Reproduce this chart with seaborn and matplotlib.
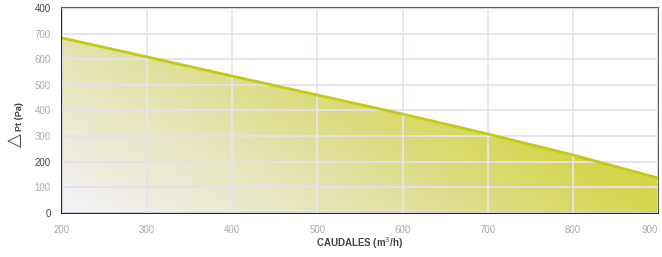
import numpy as np
import pandas as pd
import matplotlib
matplotlib.use("Agg")
import matplotlib.pyplot as plt
from matplotlib.colors import LinearSegmentedColormap
import seaborn as sns

# data
caudal = [200, 300, 400, 500, 600, 700, 800, 900]
presion = [683, 609, 534, 460, 386, 308, 226, 136]
x_ticks = [200, 300, 400, 500, 600, 700, 800, 900]
y_ticks = [0, 100, 200, 300, 400, 500, 600, 700, 800]
y_ticklabels = ['0', '100', '200', '300', '400', '500', '600', '700', '400']
dark_labels = ['0', '200']

sns.set_style("white")
plt.rcParams['font.family'] = ['Liberation Sans', 'DejaVu Sans']

df = pd.DataFrame({'caudal': caudal, 'presion': presion})

fig = plt.figure(figsize=(6.62, 2.57), dpi=100)
ax = fig.add_axes([62 / 662, 1 - 212.8 / 257, 596 / 662, 204.8 / 257])

ax.set_xlim(200, 900)
ax.set_ylim(0, 800)

# diagonal gradient fill clipped under the curve
poly = ax.fill_between(df['caudal'], df['presion'], 0, color='none', lw=0)
u, v = np.meshgrid(np.linspace(0, 1, 400), np.linspace(0, 1, 200))
t = np.clip((596 * u + 380 * v) / 620, 0, 1)
cmap = LinearSegmentedColormap.from_list('grad', ['#f5f3fb', '#e4e3b0', '#d3d54a'])
img = ax.imshow(t, cmap=cmap, origin='lower', extent=[200, 900, 0, 800],
                aspect='auto', zorder=1, vmin=0, vmax=1)
img.set_clip_path(poly.get_paths()[0], transform=ax.transData)

sns.lineplot(data=df, x='caudal', y='presion', color='#c5c915', lw=2, ax=ax, zorder=4)

ax.set_xticks(x_ticks)
ax.set_yticks(y_ticks)
ax.set_yticklabels(y_ticklabels)
ax.tick_params(axis='both', length=0, labelsize=7, labelcolor='#aaaaaa')
ax.tick_params(axis='x', pad=9)
ax.tick_params(axis='y', pad=8)
for lab in ax.get_yticklabels():
    if lab.get_text() in dark_labels or lab.get_position()[1] == 800:
        lab.set_color('#444444')
xlabs = ax.get_xticklabels()
xlabs[-1].set_horizontalalignment('right')

ax.grid(True, axis='y', color='#e3e0f0', lw=1.3, zorder=3)
ax.grid(True, axis='x', color='#e6e4ee', lw=1.3, zorder=3)
ax.set_axisbelow(False)

for side in ['left', 'bottom']:
    ax.spines[side].set_color('#222222')
    ax.spines[side].set_linewidth(1.4)
for side in ['top', 'right']:
    ax.spines[side].set_color('#555555')
    ax.spines[side].set_linewidth(1.4)

ax.set_xlabel('CAUDALES (m$^3$/h)', fontsize=7, fontweight='bold', color='#444444', labelpad=0)
ax.set_ylabel('')
fig.text(19 / 662, 1 - 117 / 257, 'Pt (Pa)', rotation=90, fontsize=6.5, fontweight='bold',
         color='#444444', ha='center', va='center')
fig.text(15 / 662, 1 - 140 / 257, '\u25b3', rotation=90, fontsize=13, color='#444444',
         ha='center', va='center', family=['DejaVu Sans'])

fig.savefig('out.png', dpi=100)
